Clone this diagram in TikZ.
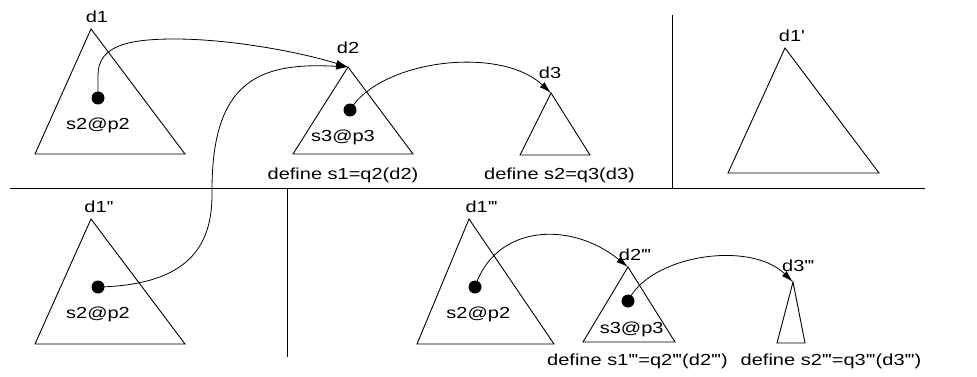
\documentclass[tikz,border=0pt]{standalone}
\usepackage{fontspec}
\setmainfont{Liberation Sans}[Ligatures=TeXOff]
\usetikzlibrary{arrows.meta}
\newcommand\wid[1]{\scalebox{1.25}[1]{#1}}
\newcommand\ppp{'\kern-0.6pt'\kern-0.6pt'}
\begin{document}
\begin{tikzpicture}[x=1pt,y=-1pt,
  ln/.style={line width=0.9pt, black},
  tri/.style={line width=0.9pt, black, line join=miter},
  arr/.style={line width=0.8pt, -{Latex[length=12pt,width=7pt]}},
  dot/.style={circle, fill=black, inner sep=0pt, minimum size=13pt},
  lab/.style={inner sep=0pt, anchor=base, font=\fontsize{16}{18}\selectfont}]
\useasboundingbox[fill=white] (0,0) rectangle (977,377);

% separators
\coordinate (hl) at (10,188); \coordinate (hr) at (925,188);
\coordinate (vlt) at (287,188); \coordinate (vlb) at (287,357);
\coordinate (vrt) at (672,15); \coordinate (vrb) at (672,188);
\draw[ln] (hl) -- (hr);
\draw[ln] (vlt) -- (vlb);
\draw[ln] (vrt) -- (vrb);

% triangle apexes and corners
\coordinate (a1) at (91,29);   \coordinate (l1) at (35,154);  \coordinate (r1) at (185,154);
\coordinate (a2) at (348,67);  \coordinate (l2) at (293,154); \coordinate (r2) at (413,154);
\coordinate (a3) at (551,93);  \coordinate (l3) at (520,155); \coordinate (r3) at (590,155);
\coordinate (a4) at (785,48);  \coordinate (l4) at (728,173); \coordinate (r4) at (879,173);
\coordinate (a5) at (91,219);  \coordinate (l5) at (35,344);  \coordinate (r5) at (185,344);
\coordinate (a6) at (469,219); \coordinate (l6) at (417,344); \coordinate (r6) at (554,344);
\coordinate (a7) at (628,267); \coordinate (l7) at (583,342); \coordinate (r7) at (675,342);
\coordinate (a8) at (793,282); \coordinate (l8) at (777,343); \coordinate (r8) at (805,343);
\foreach \i in {1,...,8}{\draw[tri] (a\i) -- (l\i) -- (r\i) -- cycle;}

% dots
\node[dot] (p1) at (98,98) {};
\node[dot] (p2) at (350,110) {};
\node[dot] (p5) at (98,287) {};
\node[dot] (p6) at (475,287) {};
\node[dot] (p7) at (628,301) {};

% labels
\node[lab] (t1) at (97,22.7) {\wid{d1}};
\node[lab] (s1) at (98,130) {\wid{s2@p2}};
\node[lab] (t2) at (348,53.3) {\wid{d2}};
\node[lab] (s2) at (343,141.7) {\wid{s3@p3}};
\node[lab] (f2) at (343,179.3) {\wid{define s1=q2(d2)}};
\node[lab] (t3) at (550,78.3) {\wid{d3}};
\node[lab] (f3) at (559.5,179.3) {\wid{define s2=q3(d3)}};
\node[lab] (t4) at (792,41.7) {\wid{d1'}};
\node[lab] (t5) at (99,212.3) {\wid{d1'\kern-0.6pt'}};
\node[lab] (s5) at (98,318.3) {\wid{s2@p2}};
\node[lab] (t6) at (481.7,212.3) {\wid{d1\ppp}};
\node[lab] (s6) at (478.3,318.3) {\wid{s2@p2}};
\node[lab] (t7) at (635,260) {\wid{d2\ppp}};
\node[lab] (s7) at (631.7,333.3) {\wid{s3@p3}};
\node[lab] (f7) at (637.5,365) {\wid{define s1\ppp=q2\ppp(d2\ppp)}};
\node[lab] (t8) at (798.3,271.7) {\wid{d3\ppp}};
\node[lab] (f8) at (831,365) {\wid{define s2\ppp=q3\ppp(d3\ppp)}};

% arrows
\draw[arr] (p1.center) -- (98,75) .. controls (98,45) and (130,39) .. (175,39)
  .. controls (230,39) and (300,52) .. (a2);
\draw[arr] (p5.center) .. controls (195,285) and (213,240) .. (212,190)
  .. controls (212,80) and (260,62) .. (a2);
\draw[arr] (p2.center) .. controls (380,60) and (500,45) .. (a3);
\draw[arr] (p6.center) .. controls (495,225) and (570,220) .. (a7);
\draw[arr] (p7.center) .. controls (650,255) and (750,240) .. (a8);
\end{tikzpicture}
\end{document}
